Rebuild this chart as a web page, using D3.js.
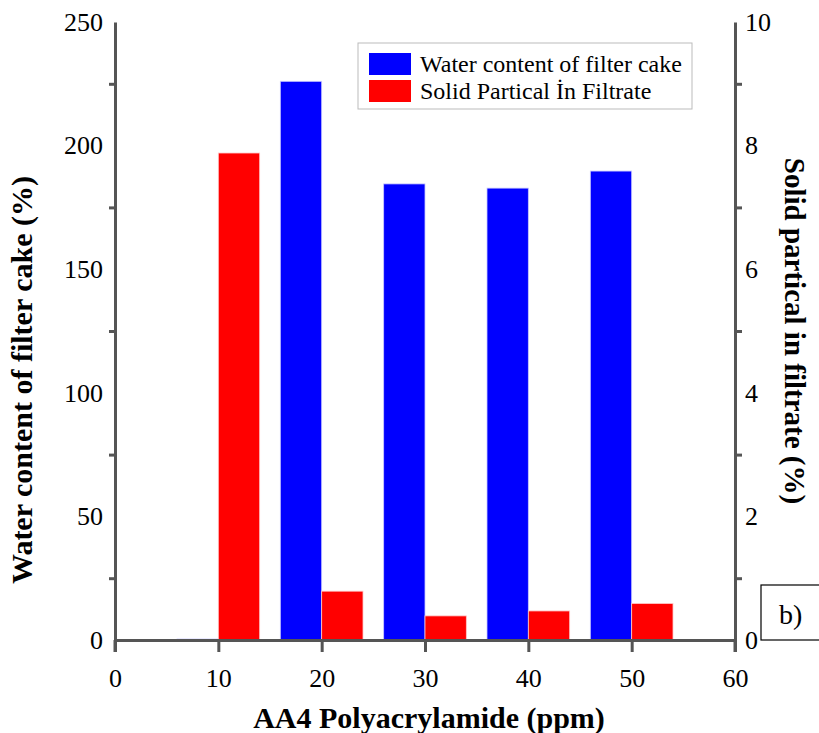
<!DOCTYPE html>
<html>
<head>
<meta charset="utf-8">
<script src="https://cdn.jsdelivr.net/npm/d3@7"></script>
<style>
  body { margin: 0; background: #fff; }
  svg { display: block; font-family: "Liberation Serif", "Times New Roman", serif; }
</style>
</head>
<body>
<div id="chart"></div>
<script>
// dosage of AA4 polyacrylamide (ppm)
var dosage = [10, 20, 30, 40, 50];
// water content of filter cake (%) -> left axis
var waterContent = [0.4, 226, 184.5, 182.8, 189.7];
// solid partical in filtrate (%) -> right axis
var solidPartical = [7.88, 0.79, 0.39, 0.47, 0.59];
var xTicks = [0, 10, 20, 30, 40, 50, 60];
var leftTicks = [0, 50, 100, 150, 200, 250];
var rightTicks = [0, 2, 4, 6, 8, 10];
var seriesNames = ['Water content of filter cake', 'Solid Partical \u0130n Filtrate'];

function init() {
    'use strict';
    var width = 819, height = 733;
    var left = 115, right = 735, top = 22, bottom = 640;
    var axisColor = '#555';
    var serif = '"Liberation Serif", "Times New Roman", serif';
    var barW = 4; // in ppm units

    var svg = d3.select('#chart').append('svg')
        .attr('width', width)
        .attr('height', height);

    var x = d3.scaleLinear().domain([0, 60]).range([left, right]);
    var yL = d3.scaleLinear().domain([0, 250]).range([bottom, top]);
    var yR = d3.scaleLinear().domain([0, 10]).range([bottom, top]);

    // blue bars (left of the dosage)
    svg.selectAll('rect.water')
        .data(dosage)
        .enter()
        .append('rect')
        .attr('class', 'water')
        .attr('x', function (d) { return x(d - barW); })
        .attr('width', function (d) { return x(d) - x(d - barW); })
        .attr('y', function (d, i) { return yL(waterContent[i]); })
        .attr('height', function (d, i) { return yL(0) - yL(waterContent[i]); })
        .attr('fill', '#0000ff')
        .attr('stroke', '#c8c8ff')
        .attr('stroke-width', 0.8);

    // red bars (right of the dosage)
    svg.selectAll('rect.solid')
        .data(dosage)
        .enter()
        .append('rect')
        .attr('class', 'solid')
        .attr('x', function (d) { return x(d); })
        .attr('width', function (d) { return x(d + barW) - x(d); })
        .attr('y', function (d, i) { return yR(solidPartical[i]); })
        .attr('height', function (d, i) { return yR(0) - yR(solidPartical[i]); })
        .attr('fill', '#ff0000')
        .attr('stroke', '#ffc8c8')
        .attr('stroke-width', 0.8);

    // axes
    var xAxis = d3.axisBottom(x).tickValues(xTicks).tickSize(12).tickPadding(17).tickSizeOuter(0);
    var leftAxis = d3.axisLeft(yL).tickValues(leftTicks).tickSize(0).tickPadding(12);
    var leftMinor = d3.axisLeft(yL).tickValues([25, 75, 125, 175, 225]).tickSize(6).tickFormat('');
    var rightAxis = d3.axisRight(yR).tickValues(rightTicks).tickSize(0).tickPadding(10);
    var rightMinor = d3.axisRight(yR).tickValues([1, 3, 5, 7, 9]).tickSize(7).tickFormat('');

    function style(g) {
        g.attr('font-family', serif);
        g.selectAll('path.domain').attr('stroke', axisColor).attr('stroke-width', 3);
        g.selectAll('.tick line').attr('stroke', axisColor).attr('stroke-width', 3);
        g.selectAll('text').attr('font-size', 26).attr('fill', '#000')
            .attr('font-family', serif);
    }

    svg.append('g').attr('transform', 'translate(0,' + bottom + ')').call(xAxis).call(style);
    svg.append('g').attr('transform', 'translate(' + left + ',0)').call(leftAxis).call(style);
    svg.append('g').attr('transform', 'translate(' + left + ',0)').call(leftMinor).call(style)
        .select('path.domain').remove();
    svg.append('g').attr('transform', 'translate(' + right + ',0)').call(rightAxis).call(style);
    svg.append('g').attr('transform', 'translate(' + right + ',0)').call(rightMinor).call(style)
        .select('path.domain').remove();
    // extend vertical axes below the baseline
    [left, right].forEach(function (px) {
        svg.append('line').attr('x1', px).attr('x2', px).attr('y1', bottom).attr('y2', bottom + 12)
            .attr('stroke', axisColor).attr('stroke-width', 3);
    });

    // axis titles
    svg.append('text')
        .attr('transform', 'translate(32,380) rotate(-90)')
        .attr('text-anchor', 'middle')
        .attr('font-size', 30).attr('font-weight', 'bold')
        .text('Water content of filter cake (%)');
    svg.append('text')
        .attr('transform', 'translate(785,' + ((top + bottom) / 2) + ') rotate(90)')
        .attr('text-anchor', 'middle')
        .attr('font-size', 29).attr('font-weight', 'bold')
        .text('Solid partical in filtrate (%)');
    svg.append('text')
        .attr('x', 429).attr('y', 728)
        .attr('text-anchor', 'middle')
        .attr('font-size', 30).attr('font-weight', 'bold')
        .text('AA4 Polyacrylamide (ppm)');

    // legend
    var lg = svg.append('g').attr('transform', 'translate(358,43)');
    lg.append('rect').attr('width', 334).attr('height', 66)
        .attr('fill', '#fff').attr('stroke', '#bbb').attr('stroke-width', 1);
    lg.selectAll('rect.sw')
        .data(seriesNames)
        .enter()
        .append('rect')
        .attr('class', 'sw')
        .attr('x', 11).attr('y', function (d, i) { return 10 + i * 27; })
        .attr('width', 42).attr('height', 22)
        .attr('fill', function (d, i) { return i === 0 ? '#0000ff' : '#ff0000'; });
    lg.selectAll('text')
        .data(seriesNames)
        .enter()
        .append('text')
        .attr('x', 62).attr('y', function (d, i) { return 29 + i * 27; })
        .attr('font-size', 24)
        .text(function (d) { return d; });

    // panel label
    svg.append('rect').attr('x', 761).attr('y', 585).attr('width', 70).attr('height', 55)
        .attr('fill', '#fff').attr('stroke', '#000').attr('stroke-width', 1.2);
    svg.append('text').attr('x', 779).attr('y', 624).attr('font-size', 28).text('b)');
}

window.onload = init;
</script>
</body>
</html>
